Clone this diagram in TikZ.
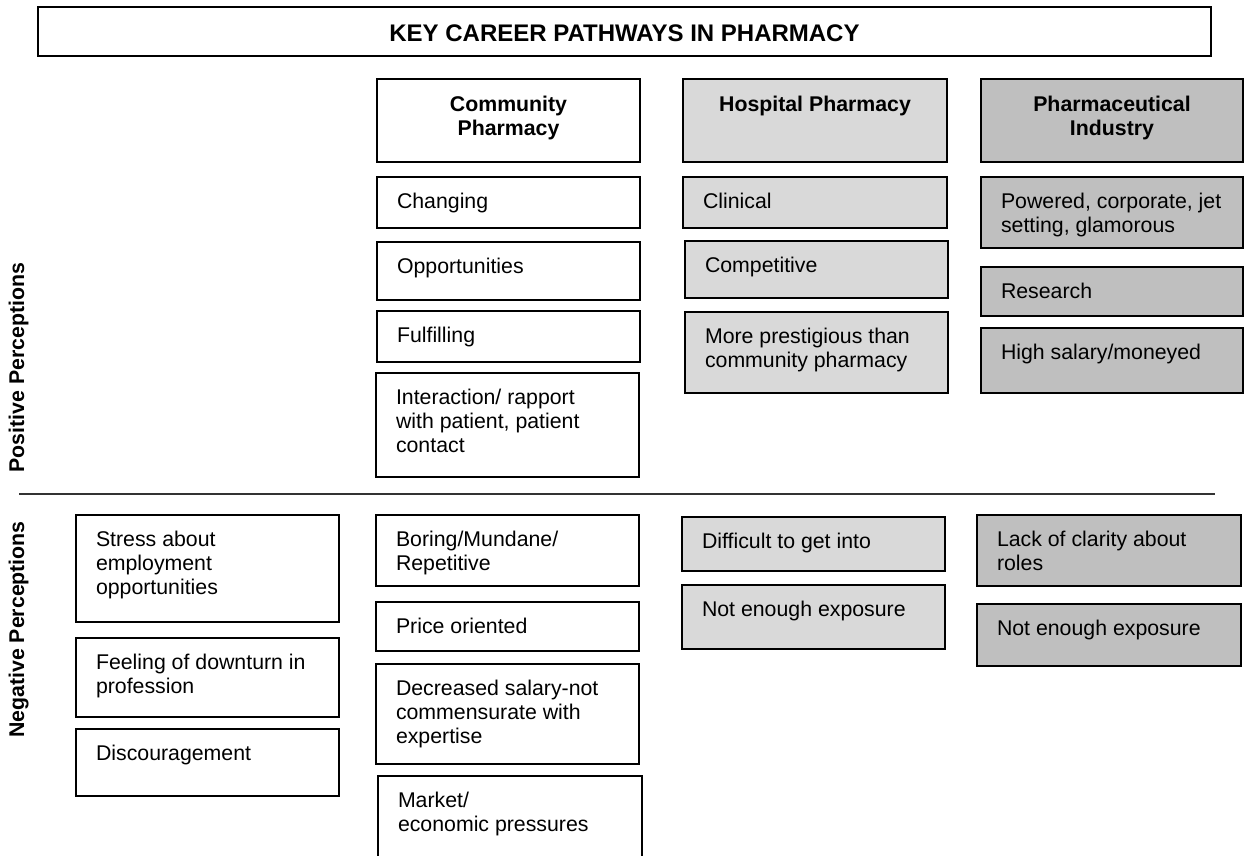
\documentclass[tikz,border=0pt]{standalone}
\usepackage{fontspec}
\setmainfont{Liberation Sans}
\usetikzlibrary{calc}
\definecolor{lightg}{HTML}{D9D9D9}
\definecolor{darkg}{HTML}{BFBFBF}
\definecolor{divcol}{HTML}{333333}
\newcommand\pcell[7]{%
  \node[cell, fill=#6, minimum width={#4-#2}, minimum height={#5-#3}] (#1) at (#2,#3) {};
  \node[celltext] (#1-t) at ($(#1.north west)+(20,14)$) {\strut #7};
}
\newcommand\hcell[7]{%
  \node[cell, fill=#6, minimum width={#4-#2}, minimum height={#5-#3}] (#1) at (#2,#3) {};
  \node[headtext] (#1-t) at ($(#1.north)+(0,15)$) {\strut #7};
}
\begin{document}
\begin{tikzpicture}[x=1pt,y=-1pt,
  cell/.style={draw=black, line width=2.2pt, rectangle, inner sep=0pt, outer sep=0pt, anchor=north west},
  celltext/.style={inner sep=0pt, outer sep=0pt, anchor=north west, align=left, font=\fontsize{21.3}{24.4}\selectfont},
  headtext/.style={inner sep=0pt, outer sep=0pt, anchor=north, align=center, font=\fontsize{21.3}{24.4}\selectfont\bfseries},
  sidetext/.style={inner sep=0pt, rotate=90, anchor=base, font=\fontsize{21.3}{24.4}\selectfont\bfseries},
  titletext/.style={inner sep=0pt, outer sep=0pt, anchor=north, font=\fontsize{24}{28.8}\selectfont\bfseries},
  divider/.style={draw=divcol, line width=2pt},
]
\useasboundingbox (0,0) rectangle (1245,855);
\clip (0,0) rectangle (1245,855);

% title
\node[cell, line width=2pt, fill=white, minimum width={1211-38}, minimum height={56-7}] (ttl) at (38,7) {};
\node[titletext] (ttl-t) at ($(ttl.north)+(0,14.8)$) {\strut KEY CAREER PATHWAYS IN PHARMACY};

% headers
\hcell{hcomm}{377}{79}{640}{162}{white}{Community\\Pharmacy}
\hcell{hhosp}{683}{79}{947}{162}{lightg}{Hospital Pharmacy}
\hcell{hind}{981}{79}{1243}{162}{darkg}{Pharmaceutical\\Industry}

% positive perceptions
\pcell{c1}{377}{177}{640}{228}{white}{Changing}
\pcell{c2}{377}{242}{640}{300}{white}{Opportunities}
\pcell{c3}{377}{311}{640}{362}{white}{Fulfilling}
\pcell{c4}{376}{373}{639}{477}{white}{Interaction/ rapport\\with patient, patient\\contact}
\pcell{h1}{683}{177}{947}{228}{lightg}{Clinical}
\pcell{h2}{685}{241}{948}{298}{lightg}{Competitive}
\pcell{h3}{685}{312}{948}{393}{lightg}{More prestigious than\\community pharmacy}
\pcell{i1}{981}{177}{1243}{248}{darkg}{Powered, corporate, jet\\setting, glamorous}
\pcell{i2}{981}{267}{1243}{316}{darkg}{Research}
\pcell{i3}{981}{328}{1243}{393}{darkg}{High salary/moneyed}

% divider
\coordinate (dl) at (19,494);
\coordinate (dr) at (1215,494);
\draw[divider] (dl) -- (dr);

% side labels
\node[sidetext] (pos) at (24,367.5) {Positive Perceptions};
\node[sidetext] (neg) at (24,629.5) {Negative Perceptions};

% negative perceptions
\pcell{n1}{76}{515}{339}{622}{white}{Stress about\\employment\\opportunities}
\pcell{n2}{76}{638}{339}{717}{white}{Feeling of downturn in\\profession}
\pcell{n3}{76}{729}{339}{796}{white}{Discouragement}
\pcell{nc1}{376}{515}{639}{586}{white}{Boring/Mundane/\\Repetitive}
\pcell{nc2}{376}{602}{639}{651}{white}{Price oriented}
\pcell{nc3}{376}{664}{639}{764}{white}{Decreased salary-not\\commensurate with\\expertise}
\pcell{nc4}{378}{776}{642}{870}{white}{Market/\\economic pressures}
\pcell{nh1}{682}{517}{945}{571}{lightg}{Difficult to get into}
\pcell{nh2}{682}{585}{945}{649}{lightg}{Not enough exposure}
\pcell{ni1}{977}{515}{1241}{586}{darkg}{Lack of clarity about\\roles}
\pcell{ni2}{977}{604}{1241}{666}{darkg}{Not enough exposure}
\end{tikzpicture}
\end{document}
